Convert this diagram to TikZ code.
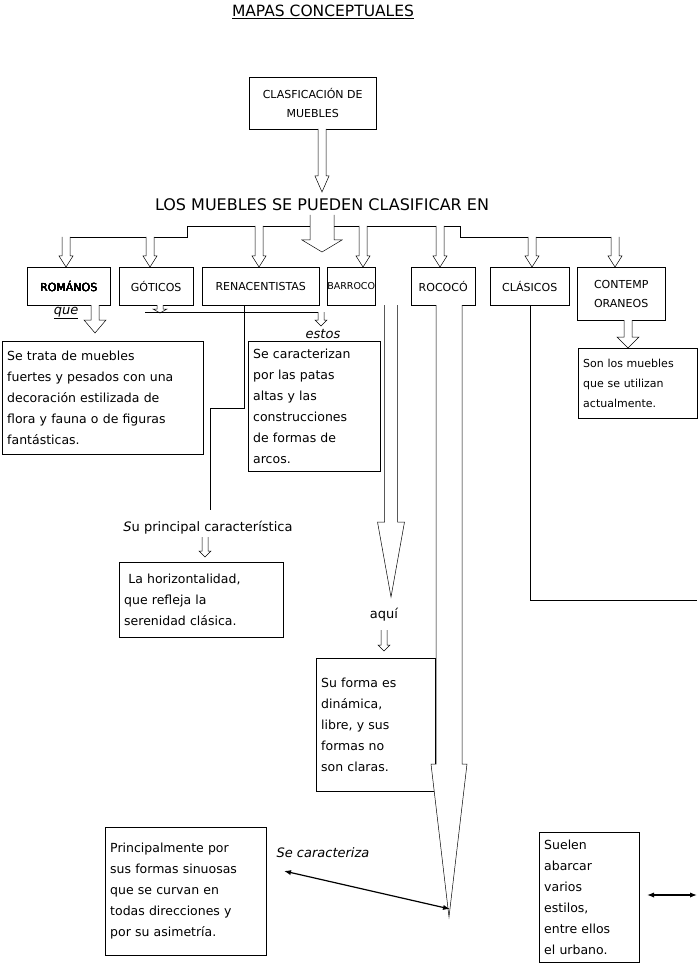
\documentclass[tikz,border=0pt]{standalone}
\usepackage{fontspec}
\setmainfont{DejaVu Sans}
\usetikzlibrary{arrows.meta}
\tikzset{
  box/.style={draw, anchor=north west, align=left, inner xsep=5pt, inner ysep=4pt, font=\fontsize{12.5}{21}\selectfont},
  cat/.style={draw, anchor=north west, align=center, font=\fontsize{11}{19}\selectfont},
  conn/.style={line width=0.5pt},
  dbl/.style={line width=1.2pt, {Latex[length=7pt]}-{Latex[length=7pt]}}
}
% hollow arrow: x, top, head start, tip, half shaft, half head
\newcommand{\harrow}[6]{\draw[line width=0.5pt, fill=white] (#1-#5,#2) -- (#1-#5,#3) -- (#1-#6,#3) -- (#1,#4) -- (#1+#6,#3) -- (#1+#5,#3) -- (#1+#5,#2);}
\begin{document}
\begin{tikzpicture}[x=1pt, y=-1pt]
    \useasboundingbox (0,0) rectangle (697,965);
    \node (title) at (323,12) {\fontsize{15.5}{17}\selectfont\underline{MAPAS CONCEPTUALES}};
    \node[cat, minimum width=127pt, minimum height=52pt] (clas) at (249,77) {CLASFICACIÓN DE\\MUEBLES};
    \harrow{322}{129}{176}{192}{4}{7}
    \node (intro) at (322,205) {\fontsize{16}{18}\selectfont LOS MUEBLES SE PUEDEN CLASIFICAR EN};
    % ramas
    \draw[conn] (62,237) -- (187,237) -- (187,226) -- (460,226) -- (460,237) -- (615,237);
    \harrow{322}{215}{240}{252}{12}{20}
    \foreach \x/\t in {66/237,150/237,259/226,363/226,440/226,532/237,615/237}
      \harrow{\x}{\t}{256}{267}{4}{7}
    % categorias
    \node[cat, minimum width=83pt, minimum height=38pt] (rom) at (27,267) {ROMÁNOS};
    \node[cat, minimum width=74pt, minimum height=38pt] (got) at (119,267) {GÓTICOS};
    \node[cat, minimum width=117pt, minimum height=38pt] (ren) at (202,267) {RENACENTISTAS};
    \node[cat, minimum width=48pt, minimum height=38pt, inner xsep=0pt, font=\fontsize{9.5}{19}\selectfont] (bar) at (327,267) {BARROCO};
    \node[cat, minimum width=64pt, minimum height=38pt] (roc) at (411,267) {ROCOCÓ};
    \node[cat, minimum width=79pt, minimum height=38pt] (cla) at (490,267) {CLÁSICOS};
    \node[cat, minimum width=88pt, minimum height=53pt, align=left] (con) at (577,267) {CONTEMP\\ORANEOS};
    % romanos
    \harrow{95}{305}{320}{333}{4}{11}
    \node[font=\itshape\fontsize{13}{14}\selectfont] (que) at (66,313) {\underline{que}};
    \node[box, minimum width=201pt, minimum height=113pt, text width=191pt] (trom) at (2,341) {Se trata de muebles\\fuertes y pesados con una\\decoración estilizada de\\flora y fauna o de figuras\\fantásticas.};
    % goticos
    \harrow{160}{305}{309}{313}{3}{7}
    \draw[conn] (145,312) -- (320,312);
    \harrow{321}{312}{320}{326}{3}{6}
    \node[font=\itshape\fontsize{13}{14}\selectfont] (estos) at (323,334) {estos};
    \node[box, minimum width=132pt, minimum height=130pt, text width=122pt] (tgot) at (248,341) {Se caracterizan\\por las patas\\altas y las\\construcciones\\de formas de\\arcos.};
    % renacentistas
    \coordinate (r1) at (210,510);
    \draw[conn] (244,305) -- (244,408) -- (210,408) -- (r1);
    \node[font=\fontsize{13}{14}\selectfont] (renlab) at (208,528) {\textit{S}u principal característica};
    \harrow{205}{537}{551}{557}{3}{6}
    \node[box, minimum width=164pt, minimum height=75pt, text width=154pt] (tren) at (119,562) {~La horizontalidad,\\que refleja la\\serenidad clásica.};
    % barroco
    \harrow{391}{305}{522}{597}{6.5}{13.5}
    \node[font=\fontsize{13}{14}\selectfont] (aqui) at (384,615) {aquí};
    \harrow{384}{630}{645}{651}{3}{6}
    \node[box, minimum width=119pt, minimum height=133pt, text width=109pt] (tbar) at (316,658) {Su forma es\\dinámica,\\libre, y sus\\formas no\\son claras.\\[12pt]};
    % rococo
    \harrow{449}{305}{764}{917}{13}{18}
    \node[font=\itshape\fontsize{13}{14}\selectfont] (secar) at (323,853) {Se caracteriza};
    \node[box, minimum width=161pt, minimum height=128pt, text width=151pt] (troc) at (105,827) {Principalmente por\\sus formas sinuosas\\que se curvan en\\todas direcciones y\\por su asimetría.};
    \coordinate (p1) at (284,871);
    \coordinate (p2) at (450,909);
    \draw[dbl] (p1) -- (p2);
    % clasicos
    \coordinate (c1) at (697,600);
    \draw[line width=1pt] (530,305) -- (530,600) -- (c1);
    \node[box, minimum width=100pt, minimum height=130pt, text width=90pt] (tcla) at (539,832) {Suelen\\abarcar\\varios\\estilos,\\entre ellos\\el urbano.};
    \coordinate (q1) at (697,895);
    \draw[dbl] (647,895) -- (q1);
    % contemporaneos
    \harrow{628}{320}{337}{348}{4}{11}
    \node[box, minimum width=119pt, minimum height=70pt, text width=109pt, font=\fontsize{11}{20}\selectfont] (tcon) at (578,348) {Son los muebles\\que se utilizan\\actualmente.};
\end{tikzpicture}
\end{document}
